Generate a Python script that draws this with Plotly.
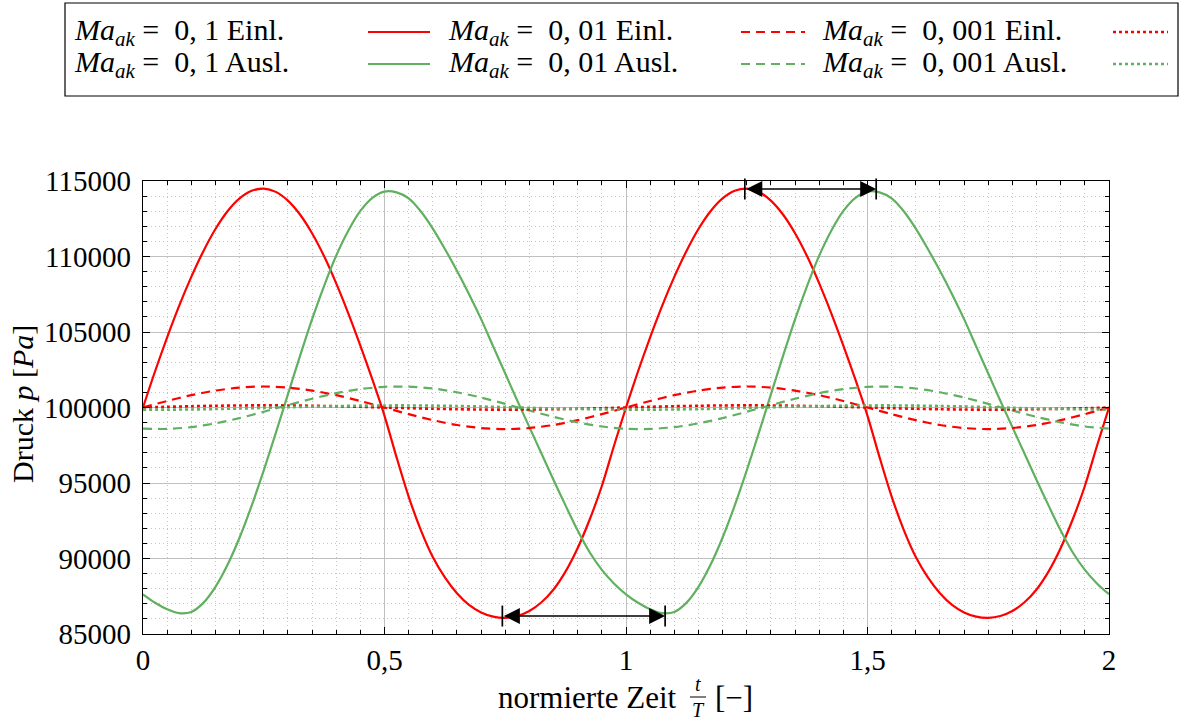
import plotly.graph_objects as go

# normalized time t/T, fine sampling for the large-amplitude curves
t_fine = [0.000, 0.025, 0.050, 0.075, 0.100, 0.125, 0.150, 0.175, 0.200, 0.225,
          0.250, 0.275, 0.300, 0.325, 0.350, 0.375, 0.400, 0.425, 0.450, 0.475,
          0.500, 0.525, 0.550, 0.575, 0.600, 0.625, 0.650, 0.675, 0.700, 0.725,
          0.750, 0.775, 0.800, 0.825, 0.850, 0.875, 0.900, 0.925, 0.950, 0.975,
          1.000, 1.025, 1.050, 1.075, 1.100, 1.125, 1.150, 1.175, 1.200, 1.225,
          1.250, 1.275, 1.300, 1.325, 1.350, 1.375, 1.400, 1.425, 1.450, 1.475,
          1.500, 1.525, 1.550, 1.575, 1.600, 1.625, 1.650, 1.675, 1.700, 1.725,
          1.750, 1.775, 1.800, 1.825, 1.850, 1.875, 1.900, 1.925, 1.950, 1.975, 2.000]

# normalized time t/T, coarse sampling for the small-amplitude curves
t_coarse = [0.00, 0.05, 0.10, 0.15, 0.20, 0.25, 0.30, 0.35, 0.40, 0.45,
            0.50, 0.55, 0.60, 0.65, 0.70, 0.75, 0.80, 0.85, 0.90, 0.95,
            1.00, 1.05, 1.10, 1.15, 1.20, 1.25, 1.30, 1.35, 1.40, 1.45,
            1.50, 1.55, 1.60, 1.65, 1.70, 1.75, 1.80, 1.85, 1.90, 1.95, 2.00]

# pressure in Pa, Ma_ak = 0,1 (on t_fine)
p_01_einl = [100000, 102400, 104650, 106750, 108650, 110350, 111820, 113000, 113850, 114350,
             114500, 114280, 113700, 112780, 111540, 110010, 108220, 106240, 104100, 101840,
             99450, 96700, 94100, 91900, 90100, 88750, 87700, 86930, 86430, 86150,
             86070, 86190, 86520, 87100, 87950, 89150, 90700, 92600, 94800, 97450,
             100000, 102400, 104650, 106750, 108650, 110350, 111820, 113000, 113850, 114350,
             114500, 114280, 113700, 112780, 111540, 110010, 108220, 106240, 104100, 101840,
             99450, 96700, 94100, 91900, 90100, 88750, 87700, 86930, 86430, 86150,
             86070, 86190, 86520, 87100, 87950, 89150, 90700, 92600, 94800, 97450, 100000]
p_01_ausl = [87630, 87070, 86640, 86380, 86460, 87060, 88120, 89580, 91390, 93500,
             95830, 98320, 100870, 103400, 105830, 108060, 110060, 111710, 113020, 113890,
             114300, 114250, 113850, 113000, 111850, 110500, 109050, 107500, 105850, 104050,
             102250, 100450, 98700, 96950, 95200, 93500, 91850, 90400, 89250, 88350,
             87630, 87070, 86640, 86380, 86460, 87060, 88120, 89580, 91390, 93500,
             95830, 98320, 100870, 103400, 105830, 108060, 110060, 111710, 113020, 113890,
             114300, 114250, 113850, 113000, 111850, 110500, 109050, 107500, 105850, 104050,
             102250, 100450, 98700, 96950, 95200, 93500, 91850, 90400, 89250, 88350, 87630]

# pressure in Pa, Ma_ak = 0,01 (on t_coarse)
p_001_einl = [100000, 100430, 100820, 101120, 101320, 101390, 101320, 101120, 100820, 100430,
              100000, 99560, 99160, 98840, 98640, 98570, 98640, 98840, 99160, 99560,
              100000, 100430, 100820, 101120, 101320, 101390, 101320, 101120, 100820, 100430,
              100000, 99560, 99160, 98840, 98640, 98570, 98640, 98840, 99160, 99560, 100000]
p_001_ausl = [98600, 98580, 98700, 98950, 99300, 99720, 100160, 100580, 100950, 101220,
              101370, 101380, 101260, 101010, 100660, 100240, 99800, 99380, 99020, 98740,
              98590, 98580, 98700, 98950, 99300, 99720, 100160, 100580, 100950, 101220,
              101370, 101380, 101260, 101010, 100660, 100240, 99800, 99380, 99020, 98740, 98600]

# pressure in Pa, Ma_ak = 0,001 (on t_coarse)
p_0001_einl = [100000, 100045, 100085, 100115, 100135, 100140, 100135, 100115, 100085, 100045,
               100000, 99955, 99915, 99885, 99865, 99860, 99865, 99885, 99915, 99955,
               100000, 100045, 100085, 100115, 100135, 100140, 100135, 100115, 100085, 100045,
               100000, 99955, 99915, 99885, 99865, 99860, 99865, 99885, 99915, 99955, 100000]
p_0001_ausl = [99861, 99859, 99871, 99896, 99931, 99972, 100016, 100058, 100094, 100121,
               100136, 100137, 100125, 100100, 100065, 100024, 99980, 99938, 99902, 99875,
               99860, 99859, 99871, 99896, 99931, 99972, 100016, 100058, 100094, 100121,
               100136, 100137, 100125, 100100, 100065, 100024, 99980, 99938, 99902, 99875, 99861]

# phase shift markers: (t_start, t_end, p)
shift_top = (1.246, 1.518, 114470)
shift_bottom = (0.744, 1.081, 86190)

x_ticks = [0, 0.5, 1, 1.5, 2]
x_tick_text = ["0", "0,5", "1", "1,5", "2"]
y_ticks = [85000, 90000, 95000, 100000, 105000, 110000, 115000]
y_tick_text = ["85000", "90000", "95000", "100000", "105000", "110000", "115000"]

RED = "#ff0000"
GREEN = "#60b060"
FONT = "Liberation Serif"
DASHED = "9px,6px"
DOTTED = "3px,3px"

series = [
    (t_fine, p_01_einl, RED, "solid", 2.2),
    (t_fine, p_01_ausl, GREEN, "solid", 2.2),
    (t_coarse, p_001_einl, RED, DASHED, 2.2),
    (t_coarse, p_001_ausl, GREEN, DASHED, 2.2),
    (t_coarse, p_0001_einl, RED, DOTTED, 2.6),
    (t_coarse, p_0001_ausl, GREEN, DOTTED, 2.6),
]

fig = go.Figure()
for xs, vals, col, dash, w in series:
    fig.add_trace(go.Scatter(x=xs, y=vals, mode="lines",
                             line=dict(color=col, dash=dash, width=w, shape="spline", smoothing=0.8),
                             showlegend=False, hoverinfo="skip"))

# plot-area pixel box inside the 1188x722 page
PL, PR, PT, PB = 143, 1109, 181, 634


def fx(px):
    return (px - PL) / (PR - PL)


def fy(py):
    return (PB - py) / (PB - PT)


annotations = []
shapes = []

# double arrows marking the phase shift
for t0, t1, p in (shift_top, shift_bottom):
    annotations.append(dict(x=t1, y=p, ax=t0, ay=p, xref="x", yref="y", axref="x", ayref="y",
                            text="", showarrow=True, arrowside="end+start",
                            arrowhead=2, startarrowhead=2, arrowsize=2.0, startarrowsize=2.0,
                            arrowwidth=1.6, arrowcolor="black", standoff=0, startstandoff=0))
    fig.add_trace(go.Scatter(x=[t0, t1], y=[p, p], mode="markers",
                             marker=dict(symbol="line-ns", size=15, line=dict(color="black", width=1.7)),
                             showlegend=False, hoverinfo="skip", cliponaxis=False))

# legend box
shapes.append(dict(type="rect", xref="paper", yref="paper",
                   x0=fx(65), x1=fx(1178), y0=fy(96), y1=fy(3),
                   line=dict(color="black", width=1.2), fillcolor="white", layer="above"))

MA = "<i>Ma</i><sub><i>ak</i></sub>\u2005=\u2002"
legend_rows = [
    (32, RED, [MA + "0, 1 Einl.", MA + "0, 01 Einl.", MA + "0, 001 Einl."]),
    (64, GREEN, [MA + "0, 1 Ausl.", MA + "0, 01 Ausl.", MA + "0, 001 Ausl."]),
]
text_x = [72, 446, 820]
line_x = [(368, 430, "solid", 2.2), (741, 805, DASHED, 2.2), (1113, 1168, DOTTED, 2.6)]
for row_y, col, labels in legend_rows:
    for lx, lab in zip(text_x, labels):
        annotations.append(dict(x=fx(lx), y=fy(row_y), xref="paper", yref="paper",
                                text=lab, showarrow=False, xanchor="left", yanchor="middle",
                                font=dict(family=FONT, size=30, color="black")))
    for x0, x1, dash, w in line_x:
        shapes.append(dict(type="line", xref="paper", yref="paper",
                           x0=fx(x0), x1=fx(x1), y0=fy(row_y), y1=fy(row_y),
                           line=dict(color=col, dash=dash, width=w), layer="above"))

# axis titles
annotations.append(dict(x=fx(22), y=fy(404), xref="paper", yref="paper", textangle=-90,
                        text="Druck <i>p</i> [<i>Pa</i>]", showarrow=False,
                        xanchor="center", yanchor="middle",
                        font=dict(family=FONT, size=30, color="black")))
annotations.append(dict(x=fx(679), y=fy(697), xref="paper", yref="paper",
                        text="normierte Zeit", showarrow=False, xanchor="right", yanchor="middle",
                        font=dict(family=FONT, size=31, color="black")))
annotations.append(dict(x=fx(698), y=fy(684), xref="paper", yref="paper",
                        text="<i>t</i>", showarrow=False, xanchor="center", yanchor="middle",
                        font=dict(family=FONT, size=20, color="black")))
annotations.append(dict(x=fx(698), y=fy(710), xref="paper", yref="paper",
                        text="<i>T</i>", showarrow=False, xanchor="center", yanchor="middle",
                        font=dict(family=FONT, size=20, color="black")))
shapes.append(dict(type="line", xref="paper", yref="paper",
                   x0=fx(690), x1=fx(706), y0=fy(697), y1=fy(697),
                   line=dict(color="black", width=1)))
annotations.append(dict(x=fx(713), y=fy(697), xref="paper", yref="paper",
                        text="[\u2212]", showarrow=False, xanchor="left", yanchor="middle",
                        font=dict(family=FONT, size=31, color="black")))

axis_common = dict(
    showline=True, linecolor="black", linewidth=1.3, mirror="ticks",
    ticks="inside", ticklen=7, tickwidth=1.1, tickcolor="black",
    showgrid=True, gridcolor="#c0c0c0", gridwidth=1, zeroline=False,
    tickfont=dict(family=FONT, size=29, color="black"),
)
minor_common = dict(ticks="inside", ticklen=4, tickcolor="black", tickwidth=1,
                    showgrid=True, gridcolor="#c4c4c4", griddash="1px,3px", gridwidth=1)

fig.update_layout(
    width=1188, height=722,
    margin=dict(l=PL, r=1188 - PR, t=PT, b=722 - PB),
    paper_bgcolor="white", plot_bgcolor="white",
    showlegend=False,
    annotations=annotations, shapes=shapes,
    xaxis=dict(range=[0, 2], tickvals=x_ticks, ticktext=x_tick_text,
               minor=dict(dtick=0.05, **minor_common), **axis_common),
    yaxis=dict(range=[85000, 115000], tickvals=y_ticks, ticktext=y_tick_text,
               minor=dict(dtick=1000, **minor_common), ticklabelstandoff=5,
               **axis_common),
)

fig.write_html("out.html")
